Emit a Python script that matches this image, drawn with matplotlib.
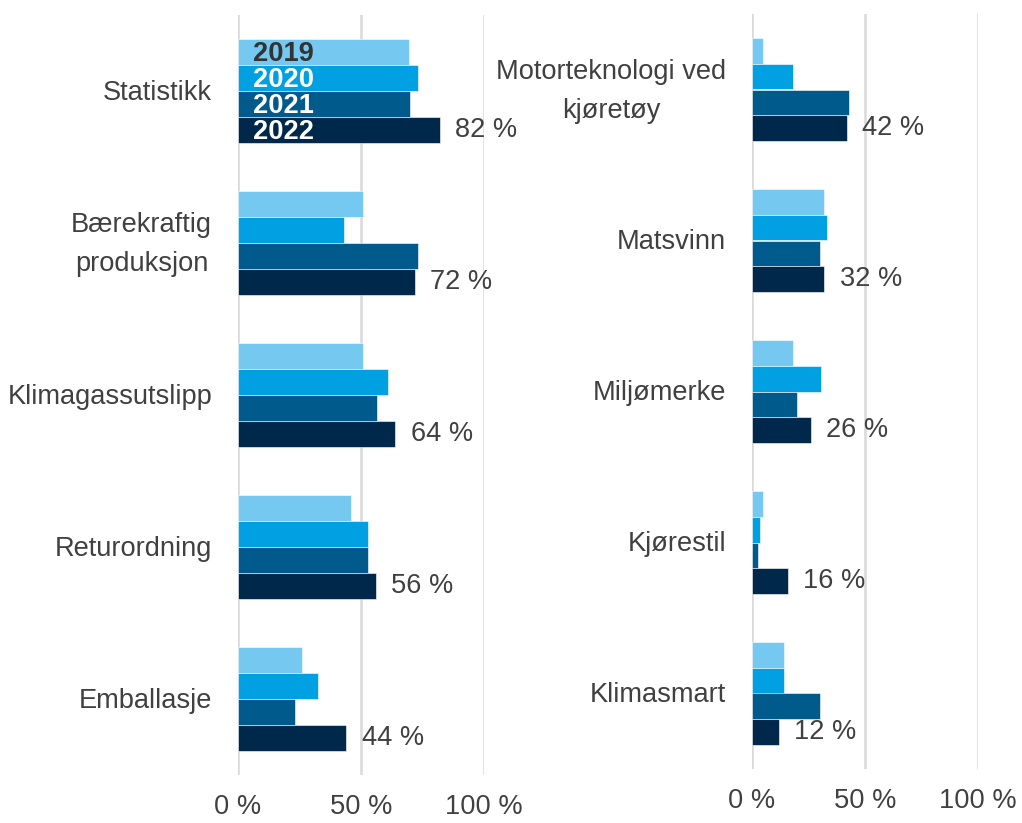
import numpy as np
import matplotlib.pyplot as plt
from matplotlib.transforms import ScaledTranslation

plt.rcParams['font.family'] = ['Liberation Sans', 'DejaVu Sans']

years = ['2019', '2020', '2021', '2022']
colors = ['#75C9F0', '#00A0E3', '#005A8C', '#00284B']
year_text = ['#333333', 'white', 'white', 'white']

left_cats = ['Statistikk', 'Bærekraftig\nproduksjon', 'Klimagassutslipp', 'Returordning', 'Emballasje']
left_vals = [
    [69.5, 51, 51, 46, 26],   # 2019
    [73, 43, 61, 53, 32.5],   # 2020
    [70, 73, 56.5, 53, 23],   # 2021
    [82, 72, 64, 56, 44],     # 2022
]

right_cats = ['Motorteknologi ved\nkjøretøy', 'Matsvinn', 'Miljømerke', 'Kjørestil', 'Klimasmart']
right_vals = [
    [5, 32, 18, 5, 14],
    [18, 33, 30.5, 3.5, 14],
    [43, 30, 20, 2.7, 30],
    [42, 32, 26, 16, 12],
]

xticks = [0, 50, 100]
xticklabels = ['0 %', '50 %', '100 %']

txt = '#404040'
fs = 19.6


def draw_panel(ax, cats, vals, legend=False):
    y = np.arange(len(cats))
    h = 0.171
    for k in range(4):
        ax.barh(y + (k - 1.5) * h, vals[k], height=h, color=colors[k],
                edgecolor='white', linewidth=0.4, zorder=3)
    # value labels for latest year
    for i, v in enumerate(vals[3]):
        ax.annotate(f'{v:g} %', (v, y[i] + 1.5 * h), xytext=(11, 0),
                    textcoords='offset points', va='center', ha='left',
                    fontsize=fs, color=txt, annotation_clip=False)
    # category labels
    tr = ax.get_yaxis_transform()
    off = ScaledTranslation(-26 / 100, 0, ax.figure.dpi_scale_trans)
    for i, c in enumerate(cats):
        ax.text(0, y[i] + 0.01, c, transform=tr + off, ha='right', va='center',
                multialignment='center', fontsize=fs, color=txt, linespacing=1.65)
    if legend:
        off = ScaledTranslation(15 / 100, 0, ax.figure.dpi_scale_trans)
        for k in range(4):
            ax.text(0, y[0] + (k - 1.5) * h + 0.01, years[k], transform=tr + off,
                    ha='left', va='center', fontsize=fs, fontweight='bold',
                    color=year_text[k], zorder=5)
    ax.set_xlim(0, 100)
    ax.set_ylim(len(cats) - 0.5, -0.5)
    ax.set_yticks([])
    ax.set_xticks(xticks)
    ax.set_xticklabels(xticklabels)
    ax.tick_params(axis='x', length=0, pad=14, labelsize=fs, labelcolor=txt)
    ax.grid(axis='x', color='#D9D9D9', linewidth=1.8, zorder=0)
    for s in ax.spines.values():
        s.set_visible(False)


fig = plt.figure(figsize=(10.22, 8.23), dpi=100)
ax1 = fig.add_axes([238 / 1022, 48 / 823, 246 / 1022, 760 / 823])
ax2 = fig.add_axes([752 / 1022, 54 / 823, 226 / 1022, 755 / 823])

draw_panel(ax1, left_cats, left_vals, legend=True)
draw_panel(ax2, right_cats, right_vals)

fig.savefig('out.png', dpi=100)
